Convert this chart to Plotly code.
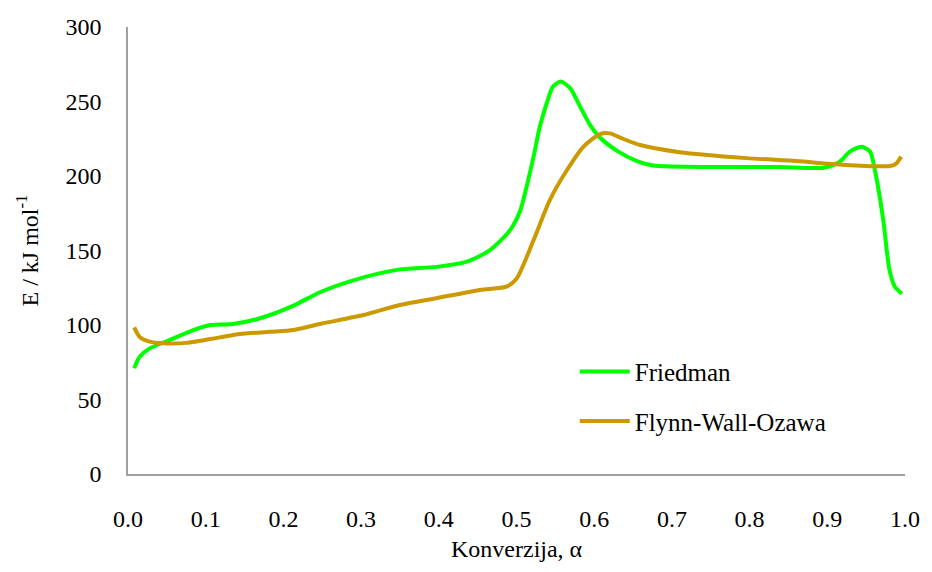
import plotly.graph_objects as go

# Friedman
fr_x = [0.008, 0.015, 0.028, 0.054, 0.084, 0.106, 0.135, 0.17, 0.213, 0.247, 0.29, 0.346, 0.397, 0.436,
        0.466, 0.492, 0.505, 0.513, 0.522, 0.530, 0.539, 0.547, 0.557, 0.569, 0.582, 0.595, 0.607, 0.629,
        0.655, 0.676, 0.753, 0.839, 0.895, 0.916, 0.929, 0.944, 0.955, 0.962, 0.972, 0.980, 0.987, 0.996]
fr_y = [71, 78.7, 84.3, 90, 96.6, 100, 100.7, 104.5, 113, 122, 130, 137, 139, 142.5,
        150.3, 163.8, 177, 192.8, 213, 233, 249, 260, 263.4, 259, 246.5, 234, 226, 217,
        210, 207, 206, 206, 205.6, 209.6, 216.4, 219.7, 216.4, 202, 170.5, 137, 125.7, 121]

# Flynn-Wall-Ozawa
fwo_x = [0.008, 0.015, 0.028, 0.045, 0.075, 0.118, 0.144, 0.183, 0.213, 0.247, 0.303, 0.35, 0.397, 0.453,
         0.487, 0.5, 0.522, 0.543, 0.565, 0.586, 0.607, 0.620, 0.637, 0.659, 0.71, 0.796, 0.86, 0.925,
         0.981, 0.989, 0.995]
fwo_y = [98.4, 92, 88.8, 87.7, 88, 91.7, 94, 95.4, 96.6, 100.7, 106.7, 113.4, 118, 123.5,
         125.7, 131, 157, 184, 204, 219.6, 228, 228.6, 225, 220.8, 216, 212, 210, 207.4,
         206.7, 208.5, 213]

x_ticks = [0.0, 0.1, 0.2, 0.3, 0.4, 0.5, 0.6, 0.7, 0.8, 0.9, 1.0]
y_ticks = [0, 50, 100, 150, 200, 250, 300]

FONT = "Liberation Serif"

fig = go.Figure()
fig.add_trace(go.Scatter(x=fr_x, y=fr_y, mode="lines", name="Friedman", legendgroup="a",
                         line=dict(color="#00FF00", width=4, shape="spline", smoothing=0.7)))
fig.add_trace(go.Scatter(x=fwo_x, y=fwo_y, mode="lines", name="Flynn-Wall-Ozawa", legendgroup="b",
                         line=dict(color="#CC9900", width=4, shape="spline", smoothing=0.7)))

fig.update_layout(
    width=916, height=556,
    margin=dict(l=120, r=19, t=19, b=90, autoexpand=False),
    paper_bgcolor="white", plot_bgcolor="white",
    font=dict(family=FONT, size=24, color="black"),
    showlegend=True,
    legend=dict(x=0.575, y=0.28, xanchor="left", yanchor="top",
                font=dict(family=FONT, size=25, color="black"),
                bgcolor="rgba(0,0,0,0)", traceorder="grouped", tracegroupgap=14, itemwidth=50),
    xaxis=dict(range=[0, 1.0], tickvals=x_ticks, ticktext=[f"{v:.1f}" for v in x_ticks],
               showgrid=False, zeroline=False, showline=True, linecolor="#A0A0A0", linewidth=1.5,
               ticks="", automargin=False, ticklabelstandoff=22,
               tickfont=dict(family=FONT, size=24, color="black")),
    yaxis=dict(range=[0, 300], tickvals=y_ticks, showgrid=False, zeroline=False,
               showline=True, linecolor="#A0A0A0", linewidth=1.5, ticks="",
               automargin=False, ticklabelstandoff=20,
               tickfont=dict(family=FONT, size=24, color="black")),
    annotations=[
        dict(text="Konverzija, α", xref="paper", yref="paper", x=0.5, y=-0.168,
             xanchor="center", yanchor="middle", showarrow=False,
             font=dict(family=FONT, size=24, color="black")),
        dict(text="E / kJ mol<sup>-1</sup>", xref="paper", yref="paper", x=-0.13, y=0.5,
             xanchor="center", yanchor="middle", showarrow=False, textangle=-90,
             font=dict(family=FONT, size=24, color="black")),
    ],
)

fig.write_html("out.html")
